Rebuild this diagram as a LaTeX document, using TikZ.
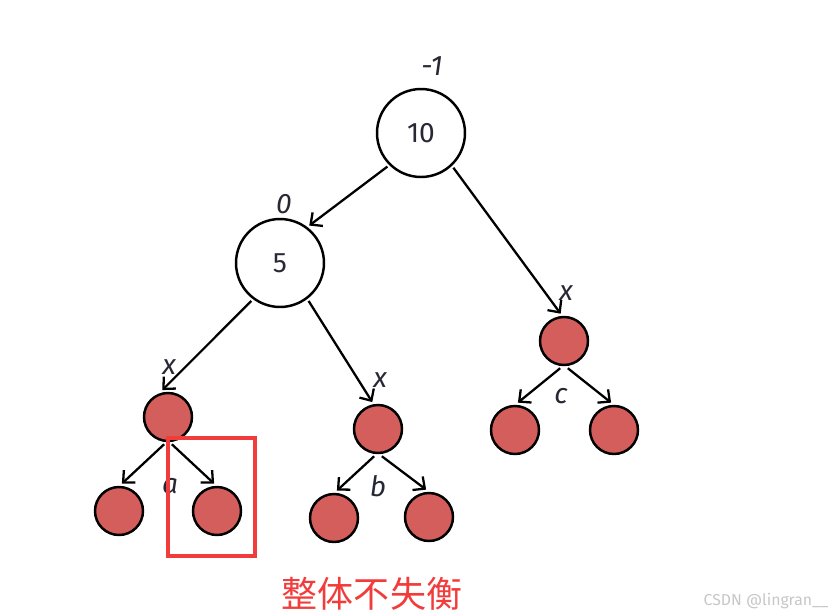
\documentclass[tikz,border=0pt]{standalone}
\usepackage{fontspec}
\setmainfont{Fira Sans}
\newfontfamily\cjkfont{Noto Sans CJK SC}
\usetikzlibrary{arrows.meta}

\definecolor{nodered}{RGB}{212,94,92}
\definecolor{boxred}{RGB}{242,60,60}
\definecolor{lblgray}{RGB}{40,40,52}

\tikzset{
  bignode/.style={circle, draw, line width=1.4pt, minimum size=1.76cm, inner sep=0pt, outer sep=2pt,
    text=lblgray, font=\fontsize{16}{18}\selectfont},
  rednode/.style={circle, draw, fill=nodered, line width=1.4pt, minimum size=0.96cm, inner sep=0pt, outer sep=2pt},
  lbl/.style={text=lblgray, font=\itshape\fontsize{16}{18}\selectfont, inner sep=0pt},
  edge/.style={->, line width=1.3pt}
}

\begin{document}
\begin{tikzpicture}[x=0.02cm, y=-0.02cm, >={Straight Barb[length=1.8mm,width=3.4mm]}]
\useasboundingbox (0,0) rectangle (833,616);

% tree
\node[bignode] (root) at (421,133) {10};
\node[bignode] (five) at (280,263) {5};
\node[rednode] (xl) at (168,417) {};
\node[rednode] (xm) at (378,429) {};
\node[rednode] (xr) at (564,341) {};
\node[rednode] (xla) at (119,511) {};
\node[rednode] (xlb) at (217,511) {};
\node[rednode] (xma) at (334,518) {};
\node[rednode] (xmb) at (429,517) {};
\node[rednode] (xra) at (515,430) {};
\node[rednode] (xrb) at (614,430) {};

% labels
\node[lbl] (lroot) at (432,66) {-1};
\node[lbl] (lfive) at (284,204) {0};
\node[lbl] (lxl) at (169,367) {x};
\node[lbl] (lxm) at (380,380) {x};
\node[lbl] (lxr) at (566,293) {x};
\node[lbl] (la) at (170,486) {a};
\node[lbl] (lb) at (378,486) {b};
\node[lbl] (lc) at (561,396) {c};

% edges
\draw[edge] (root.225) -- (five.52);
\draw[edge] (root.313) -- (xr.97);
\draw[edge] (five.233) -- (xl.102);
\draw[edge] (five.307) -- (xm.102);
\draw[edge] (xl.262) -- (xla.84);
\draw[edge] (xl.278) -- (xlb.96);
\draw[edge] (xm.262) -- (xma.84);
\draw[edge] (xm.278) -- (xmb.96);
\draw[edge] (xr.262) -- (xra.84);
\draw[edge] (xr.278) -- (xrb.96);

% box
\draw[boxred, line width=1.8pt] (168,438) rectangle (255,556);
\node[text=boxred, font=\cjkfont\fontsize{20.5}{24}\selectfont] (note) at (372,594) {整体不失衡};
\node[text=black!22, font=\fontsize{9}{10}\selectfont] (mark) at (766,601) {CSDN @lingran\_\_};

\end{tikzpicture}
\end{document}
